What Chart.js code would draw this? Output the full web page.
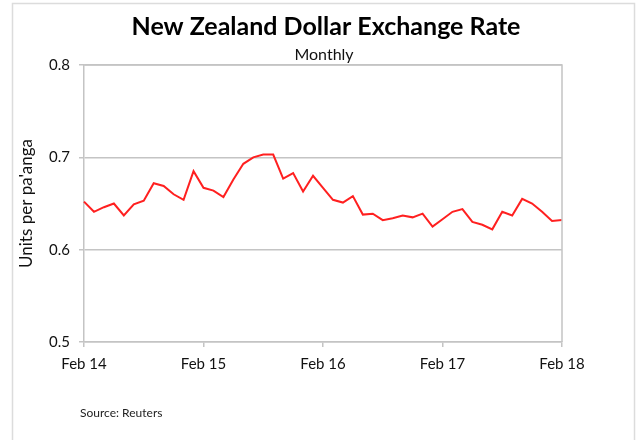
<!DOCTYPE html>
<html>
<head>
<meta charset="utf-8">
<script src="https://cdn.jsdelivr.net/npm/chart.js@4.4.1/dist/chart.umd.min.js"></script>
<style>
  html, body { margin: 0; padding: 0; background: #ffffff; }
  #wrap { width: 642px; height: 440px; position: relative; }
</style>
</head>
<body>
<div id="wrap"><canvas id="c" width="642" height="440"></canvas></div>
<script>
// Monthly NZD rate, Feb 2014 - Feb 2018 (49 months)
const months = [
  'Feb 14','Mar 14','Apr 14','May 14','Jun 14','Jul 14','Aug 14','Sep 14','Oct 14','Nov 14','Dec 14','Jan 15',
  'Feb 15','Mar 15','Apr 15','May 15','Jun 15','Jul 15','Aug 15','Sep 15','Oct 15','Nov 15','Dec 15','Jan 16',
  'Feb 16','Mar 16','Apr 16','May 16','Jun 16','Jul 16','Aug 16','Sep 16','Oct 16','Nov 16','Dec 16','Jan 17',
  'Feb 17','Mar 17','Apr 17','May 17','Jun 17','Jul 17','Aug 17','Sep 17','Oct 17','Nov 17','Dec 17','Jan 18',
  'Feb 18'
];
const rate = [
  0.652, 0.641, 0.646, 0.650, 0.637, 0.649, 0.653, 0.672, 0.669, 0.660, 0.654, 0.685,
  0.667, 0.664, 0.657, 0.676, 0.693, 0.700, 0.703, 0.703, 0.677, 0.683, 0.663, 0.680,
  0.667, 0.654, 0.651, 0.658, 0.638, 0.639, 0.632, 0.634, 0.637, 0.635, 0.639, 0.625,
  0.633, 0.641, 0.644, 0.630, 0.627, 0.622, 0.641, 0.637, 0.655, 0.650, 0.641, 0.631,
  0.632
];
const yTicks = [0.5, 0.6, 0.7, 0.8];
const tickEvery = 12;

const titleText = 'New Zealand Dollar Exchange Rate';
const subtitleText = 'Monthly';
const sourceText = 'Source: Reuters';

const FONT = 'Lato, "Open Sans", sans-serif';
const GRID = '#c4c4c4';

// white page, outer frame, headings, plot border and source note
const decor = {
  id: 'decor',
  beforeDraw(chart) {
    const ctx = chart.ctx;
    ctx.save();
    ctx.fillStyle = '#ffffff';
    ctx.fillRect(0, 0, chart.width, chart.height);
    ctx.strokeStyle = '#dcdcdc';
    ctx.lineWidth = 1.5;
    ctx.strokeRect(12.5, 3.5, 622, 460);

    ctx.textAlign = 'center';
    ctx.textBaseline = 'middle';
    ctx.fillStyle = '#000000';
    ctx.font = 'bold 25px ' + FONT;
    ctx.fillText(titleText, 326, 27);
    ctx.fillStyle = '#111111';
    ctx.font = '16px ' + FONT;
    ctx.fillText(subtitleText, 324, 55);
    ctx.restore();
  },
  afterDatasetsDraw(chart) {
    const { ctx, chartArea: a } = chart;
    ctx.save();
    ctx.strokeStyle = GRID;
    ctx.lineWidth = 1.5;
    ctx.beginPath();
    ctx.moveTo(a.left, a.top);
    ctx.lineTo(a.right, a.top);
    ctx.lineTo(a.right, a.bottom);
    ctx.stroke();
    ctx.fillStyle = '#222222';
    ctx.font = '12px ' + FONT;
    ctx.textBaseline = 'middle';
    ctx.fillText(sourceText, 80, 413);
    ctx.restore();
  }
};

new Chart(document.getElementById('c'), {
  type: 'line',
  data: {
    labels: months,
    datasets: [{
      data: rate,
      borderColor: '#ff2020',
      borderWidth: 2,
      pointRadius: 0,
      tension: 0,
      fill: false
    }]
  },
  options: {
    responsive: false,
    animation: false,
    layout: { padding: { left: 0, right: 80, top: 65, bottom: 68 } },
    plugins: {
      legend: { display: false },
      tooltip: { enabled: false },
      title: { display: false },
      subtitle: { display: false }
    },
    scales: {
      x: {
        type: 'category',
        offset: false,
        afterBuildTicks(axis) {
          axis.ticks = axis.ticks.filter(t => t.value % tickEvery === 0);
        },
        afterFit(scale) {
          scale.height = 30;
          scale.paddingLeft = 0;
          scale.paddingRight = 0;
        },
        grid: { drawOnChartArea: false, drawTicks: true, tickLength: 5, color: GRID, lineWidth: 1.5 },
        border: { display: true, color: GRID, width: 1.5 },
        ticks: {
          autoSkip: false,
          maxRotation: 0,
          minRotation: 0,
          padding: 8,
          color: '#111111',
          font: { family: FONT, size: 15 }
        }
      },
      y: {
        min: 0.5,
        max: 0.8,
        afterBuildTicks(axis) {
          axis.ticks = yTicks.map(v => ({ value: v }));
        },
        afterFit(scale) {
          scale.width = 84;
          scale.paddingTop = 0;
          scale.paddingBottom = 0;
        },
        grid: { drawOnChartArea: true, drawTicks: true, tickLength: 5, color: GRID, lineWidth: 1.5 },
        border: { display: true, color: GRID, width: 1.5 },
        ticks: {
          padding: 9,
          color: '#111111',
          font: { family: FONT, size: 15 },
          callback: v => v.toFixed(1)
        },
        title: {
          display: true,
          text: "Units per pa'anga",
          color: '#111111',
          font: { family: FONT, size: 17, lineHeight: 1.2 },
          padding: { top: 16, bottom: 0 }
        }
      }
    }
  },
  plugins: [decor]
});
</script>
</body>
</html>
